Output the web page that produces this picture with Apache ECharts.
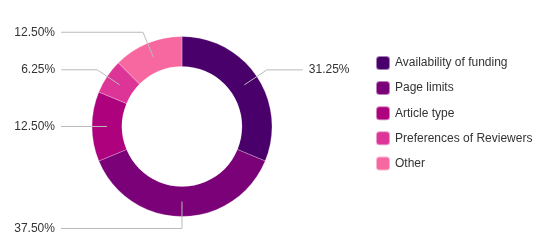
<!DOCTYPE html>
<html>
<head>
<meta charset="utf-8">
<script src="https://cdn.jsdelivr.net/npm/echarts@6/dist/echarts.min.js"></script>
<style>html,body{margin:0;padding:0;background:#fff}#c{width:544px;height:244px}</style>
</head>
<body>
<div id="c"></div>
<script>
const categories = ['Availability of funding', 'Page limits', 'Article type', 'Preferences of Reviewers', 'Other'];
const values = [31.25, 37.5, 12.5, 6.25, 12.5];
const colors = ['#49006a', '#7a0177', '#ae017e', '#dd3497', '#f768a1'];
const leaderLen2 = [36, 121, 19, 36, 82];

const chart = echarts.init(document.getElementById('c'), null, {renderer: 'canvas'});
const font = 'Liberation Sans, Arial, sans-serif';
const ringData = categories.map((n, i) => ({name: n, value: values[i], itemStyle: {color: colors[i]}}));
const labelData = categories.map((n, i) => ({name: n, value: values[i], labelLine: {length2: leaderLen2[i]}}));

chart.setOption({
  animation: false,
  color: colors,
  legend: {
    orient: 'vertical', left: 375, top: 55, padding: 0,
    itemWidth: 14, itemHeight: 14, itemGap: 9.1, icon: 'roundRect',
    data: categories,
    textStyle: {fontFamily: font, fontSize: 12, color: '#333', lineHeight: 14}
  },
  series: [
    {
      type: 'pie', name: 'ring', center: [182, 126.5], radius: [60, 90], startAngle: 90,
      avoidLabelOverlap: false, silent: true,
      label: {show: false}, labelLine: {show: false},
      itemStyle: {borderColor: 'rgba(255,255,255,0.5)', borderWidth: 0.5},
      data: ringData, z: 1
    },
    {
      type: 'pie', name: 'labels', center: [182, 126.5], radius: [0, 75], startAngle: 89.98,
      avoidLabelOverlap: false, silent: true, legendHoverLink: false,
      itemStyle: {color: 'rgba(0,0,0,0)'},
      label: {show: true, position: 'outside', distanceToLabelLine: 6,
        fontFamily: font, fontSize: 12, color: '#333',
        formatter: p => p.value.toFixed(2) + '%'},
      labelLine: {show: true, length: 27, lineStyle: {color: '#bbb', width: 1}},
      data: labelData, z: 3
    }
  ]
});
</script>
</body>
</html>
